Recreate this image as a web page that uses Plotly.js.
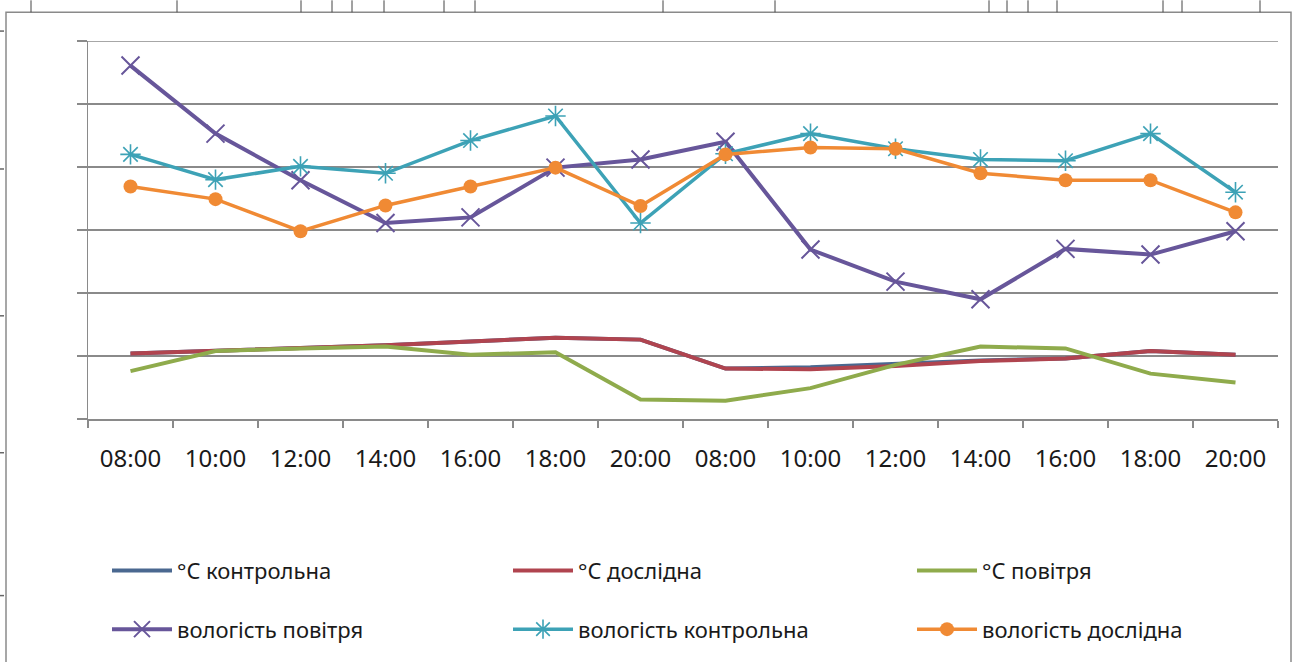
<!DOCTYPE html>
<html>
<head>
<meta charset="utf-8">
<script src="https://cdn.plot.ly/plotly-3.0.1.min.js"></script>
<style>
  html, body { margin: 0; padding: 0; background: #ffffff; }
  #chart { width: 1300px; height: 662px; }
</style>
</head>
<body>
<div id="chart"></div>
<script>
// Measurement times over two days
const timeLabels = ["08:00", "10:00", "12:00", "14:00", "16:00", "18:00", "20:00",
                    "08:00", "10:00", "12:00", "14:00", "16:00", "18:00", "20:00"];

// Temperatures, °C
const tempControl = [0.4, 0.8, 1.2, 1.7, 2.3, 2.9, 2.6, -2.0, -1.8, -1.3, -0.7, -0.4, 0.8, 0.2];
const tempTrial   = [0.4, 0.8, 1.2, 1.7, 2.3, 2.9, 2.6, -2.0, -2.1, -1.6, -0.8, -0.4, 0.8, 0.2];
const tempAir     = [-2.4, 0.8, 1.2, 1.5, 0.2, 0.6, -6.9, -7.1, -5.1, -1.4, 1.5, 1.2, -2.8, -4.2];

// Humidity
const humAir     = [46.1, 35.3, 27.9, 21.1, 22.0, 29.9, 31.2, 34.0, 16.9, 11.8, 9.0, 17.0, 16.1, 19.8];
const humControl = [32.0, 28.0, 30.1, 29.0, 34.2, 38.1, 21.1, 32.1, 35.3, 32.9, 31.2, 31.0, 35.3, 26.0];
const humTrial   = [26.9, 24.9, 19.8, 23.9, 26.9, 29.9, 23.8, 32.0, 33.1, 32.9, 29.0, 27.9, 27.9, 22.8];

const yTop = 50, yBottom = -10;

const xIdx = timeLabels.map((_, i) => i);
const boundaries = timeLabels.map((_, i) => i - 0.5).concat([timeLabels.length - 0.5]);

const C = {
  tCtrl: '#4a6890',
  tTrial: '#b0444f',
  tAir: '#8fab4c',
  hAir: '#67569a',
  hCtrl: '#3da2b6',
  hTrial: '#f08a34'
};

const traces = [
  { x: xIdx, y: tempControl, name: '°C контрольна', mode: 'lines',
    line: { color: C.tCtrl, width: 4 }, legend: 'legend' },
  { x: xIdx, y: tempTrial, name: '°C дослідна', mode: 'lines',
    line: { color: C.tTrial, width: 4 }, legend: 'legend2' },
  { x: xIdx, y: tempAir, name: '°C повітря', mode: 'lines',
    line: { color: C.tAir, width: 4 }, legend: 'legend3' },
  { x: xIdx, y: humAir, name: 'вологість повітря', mode: 'lines+markers',
    line: { color: C.hAir, width: 4 },
    marker: { symbol: 'x-thin-open', size: 18, color: C.hAir, line: { width: 2, color: C.hAir } },
    legend: 'legend4' },
  { x: xIdx, y: humControl, name: 'вологість контрольна', mode: 'lines+markers',
    line: { color: C.hCtrl, width: 3.5 },
    marker: { symbol: 'asterisk-open', size: 17, color: C.hCtrl, line: { width: 1.6, color: C.hCtrl } },
    legend: 'legend5' },
  { x: xIdx, y: humTrial, name: 'вологість дослідна', mode: 'lines+markers',
    line: { color: C.hTrial, width: 3.5 },
    marker: { symbol: 'circle', size: 14, color: C.hTrial },
    legend: 'legend6' }
];

// plot area in pixels
const L = 88, R = 1278, T = 41, B = 422;
const px2x = p => (p - L) / (R - L);
const px2y = p => (B - p) / (B - T);

const gray = '#8a8a8a';

function legendAt(colPx, rowPx) {
  return {
    x: px2x(colPx), y: px2y(rowPx), xanchor: 'left', yanchor: 'middle',
    orientation: 'v', itemwidth: 60, bgcolor: 'rgba(0,0,0,0)', borderwidth: 0,
    font: { family: 'Noto Sans, sans-serif', size: 22, color: '#1a1a1a' },
    itemclick: false, itemdoubleclick: false
  };
}

const colPx = [107, 508, 912];
const rowPx = [575, 634];

const shapes = [];
// top gridline (at the upper end of the value range)
shapes.push({ type: 'line', xref: 'paper', yref: 'y', x0: 0, x1: 1, y0: yTop, y1: yTop,
  line: { color: gray, width: 1.5 }, layer: 'below' });
// outer frame and fragments of the surrounding table
shapes.push({ type: 'rect', xref: 'paper', yref: 'paper',
  x0: px2x(6), x1: px2x(1291), y0: px2y(12), y1: px2y(670),
  line: { color: gray, width: 1.5 }, fillcolor: 'rgba(0,0,0,0)', layer: 'below' });
[31, 177, 301, 332, 352, 384, 444, 475, 663, 775, 989, 1007, 1028, 1057, 1163, 1182, 1260].forEach(p => {
  shapes.push({ type: 'line', xref: 'paper', yref: 'paper',
    x0: px2x(p), x1: px2x(p), y0: px2y(0), y1: px2y(12), line: { color: '#444', width: 1 } });
});
[31, 170, 318, 456, 600].forEach(p => {
  shapes.push({ type: 'line', xref: 'paper', yref: 'paper',
    x0: px2x(0), x1: px2x(4), y0: px2y(p), y1: px2y(p), line: { color: '#666', width: 1.5 } });
});

const layout = {
  width: 1300, height: 662,
  margin: { l: L, r: 1300 - R, t: T, b: 662 - B, pad: 0 },
  paper_bgcolor: '#ffffff', plot_bgcolor: '#ffffff',
  font: { family: 'Noto Sans, sans-serif', color: '#1a1a1a' },
  xaxis: {
    range: [-0.5, timeLabels.length - 0.5],
    tickmode: 'array', tickvals: xIdx, ticktext: timeLabels,
    ticks: '', showgrid: false, zeroline: false,
    showline: true, linecolor: gray, linewidth: 1.5,
    tickfont: { family: 'Noto Sans, sans-serif', size: 24, color: '#1a1a1a' },
    ticklabelstandoff: 18,
    minor: { tickmode: 'array', tickvals: boundaries, ticks: 'outside', ticklen: 7,
             tickcolor: gray, tickwidth: 1.5, showgrid: false },
    fixedrange: true
  },
  yaxis: {
    range: [yBottom, yTop], tickmode: 'linear', tick0: 0, dtick: 10,
    showgrid: true, gridcolor: gray, gridwidth: 1.5,
    zeroline: true, zerolinecolor: gray, zerolinewidth: 1.5,
    showline: true, linecolor: gray, linewidth: 1.5,
    ticks: 'outside', ticklen: 10, tickcolor: gray, tickwidth: 1.5,
    showticklabels: false, fixedrange: true
  },
  showlegend: true,
  legend:  legendAt(colPx[0], rowPx[0]),
  legend2: legendAt(colPx[1], rowPx[0]),
  legend3: legendAt(colPx[2], rowPx[0]),
  legend4: legendAt(colPx[0], rowPx[1]),
  legend5: legendAt(colPx[1], rowPx[1]),
  legend6: legendAt(colPx[2], rowPx[1]),
  shapes: shapes
};

Plotly.newPlot('chart', traces, layout, { displayModeBar: false, staticPlot: true });
</script>
</body>
</html>
